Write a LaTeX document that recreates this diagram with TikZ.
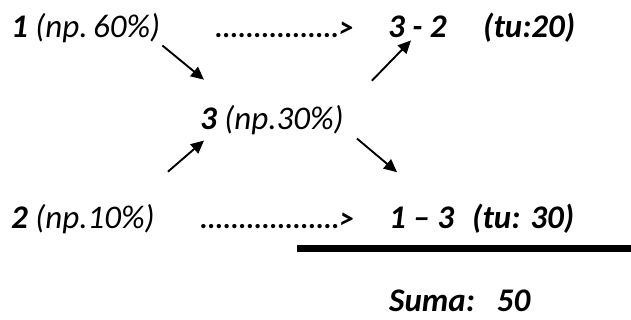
\documentclass[tikz,border=0pt]{standalone}
\usepackage{fontspec}
\setmainfont{Carlito}
\usetikzlibrary{arrows.meta}
\tikzset{
  lbl/.style={anchor=base west, inner sep=0pt, font=\fontsize{33}{38}\selectfont\bfseries\itshape},
  dots/.style={anchor=base west, inner sep=0pt, font=\fontsize{29}{34}\selectfont\bfseries\itshape},
  flow/.style={-{Triangle[length=13pt,width=12pt]}, line width=1.9pt},
}

\begin{document}
\begin{tikzpicture}[x=1pt,y=-1pt]
    \useasboundingbox (0,0) rectangle (631,320);
    % --- top row ---
    \node[lbl] (n1) at (11,38) {1 \textmd{(np.\,60\%)}};
    \node[dots] (d1) at (215,38) {................>};
    \node[lbl] (p32) at (388,38) {3 - 2};
    \node[lbl] (t32) at (483,38) {(tu:20)};
    % --- middle ---
    \node[lbl] (n3) at (200,130) {3 \textmd{(np.30\%)}};
    % --- bottom row ---
    \node[lbl] (n2) at (11,229) {2 \textmd{(np.10\%)}};
    \node[dots] (d2) at (200,229) {..................>};
    \node[lbl] (p13) at (389,229) {1 -- 3};
    \node[lbl] (t13) at (472,229) {(tu: 30)};
    \draw[line width=7pt] (297,248) -- (631,248);
    \node[lbl] (suma) at (389,311) {Suma:\hspace{12pt} 50};
    % --- arrows ---
    \draw[flow] ([shift={(2,2)}]n1.south east) -- ([shift={(4,-26)}]n3.north west);
    \draw[flow] ([shift={(13,-33)}]n2.north east) -- ([shift={(4,5)}]n3.south west);
    \draw[flow] ([shift={(28,-25)}]n3.north east) -- ([shift={(23,2)}]p32.south west);
    \draw[flow] ([shift={(13,3)}]n3.south east) -- ([shift={(8,-35)}]p13.north west);
\end{tikzpicture}
\end{document}
